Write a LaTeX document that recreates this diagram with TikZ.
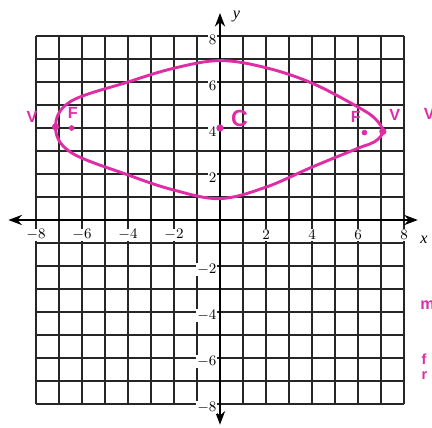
\documentclass[tikz,border=0pt]{standalone}
\usepackage{fontspec}
\setmainfont{Liberation Serif}
\setsansfont{Liberation Sans}
\usepackage{xcolor}
\usetikzlibrary{arrows.meta,positioning}

\definecolor{ink}{RGB}{222,45,165}

\begin{document}
\begin{tikzpicture}[
  x=0.5cm,y=0.5cm,
  gridline/.style={line width=0.8pt,black!85},
  axis/.style={Stealth-Stealth,line width=1.2pt},
  num/.style={font=\small,fill=white,inner sep=0.6pt},
  pen/.style={ink,line width=1.8pt},
  dot/.style={circle,fill=ink,inner sep=0pt,minimum size=4.5pt},
  hand/.style={ink,font=\sffamily\bfseries,inner sep=0pt}
]
\useasboundingbox (-9.565,-9.0) rectangle (9.217,9.565);
\clip (-9.565,-9.0) rectangle (9.217,9.565);

% grid
\draw[gridline,step=0.5cm] (-8,-8) grid (8,8);

% axes
\coordinate (xl) at (-9.2,0);
\coordinate (xr) at (8.6,0);
\coordinate (yb) at (0,-8.9);
\coordinate (yt) at (0,9.0);
\draw[axis] (xl) -- (xr);
\draw[axis] (yb) -- (yt);
\node[font=\itshape] (xlab) at (8.87,-0.85) {x};
\node[font=\itshape] (ylab) at (0.72,8.85) {y};

% tick labels
\foreach \v in {-8,-6,-4,-2,2,4,6,8} {
  \node[num] at (\v,-0.65) {$\v$};
  \node[num,anchor=east] at (-0.1,\v-0.15) {$\v$};
}

% ellipse, drawn by hand
\draw[pen] plot[smooth cycle,tension=0.6] coordinates {
  (-7.15,4.05) (-6.5,5.15) (-4,6.0) (-2,6.6) (0,6.93)
  (2,6.62) (4,5.95) (6,4.91) (6.75,4.4) (7.08,3.85) (6.72,3.4)
  (6,3.12) (4,2.3) (2,1.43) (0,0.93) (-2,1.3) (-4,1.96) (-6.5,2.95)
};

% points
\node[dot] (cen) at (0,4) {};
\node[dot] (vl) at (-7.15,4.05) {};
\node[dot] (vr) at (7.08,3.85) {};
\node[dot,minimum size=3.5pt] (fl) at (-6.45,4.0) {};
\node[dot,minimum size=3.5pt] (fr) at (6.28,3.8) {};

\node[hand] (lc) at (0.85,4.4) {\Large C};
\node[hand] (lvl) at (-8.17,4.5) {V};
\node[hand] (lfl) at (-6.4,4.65) {F};
\node[hand] (lfr) at (5.9,4.5) {F};
\node[hand] (lvr) at (7.6,4.55) {V};

% notes cut off at the right edge
\node[hand,anchor=west] (n1) at (8.85,4.6) {V};
\node[hand,anchor=west] (n2) at (8.7,-3.7) {m};
\node[hand,anchor=west,font=\sffamily\bfseries\small] (n3) at (8.75,-6.05) {f};
\node[hand,anchor=west,font=\sffamily\bfseries\small] (n4) at (8.75,-6.75) {r};
\end{tikzpicture}
\end{document}
